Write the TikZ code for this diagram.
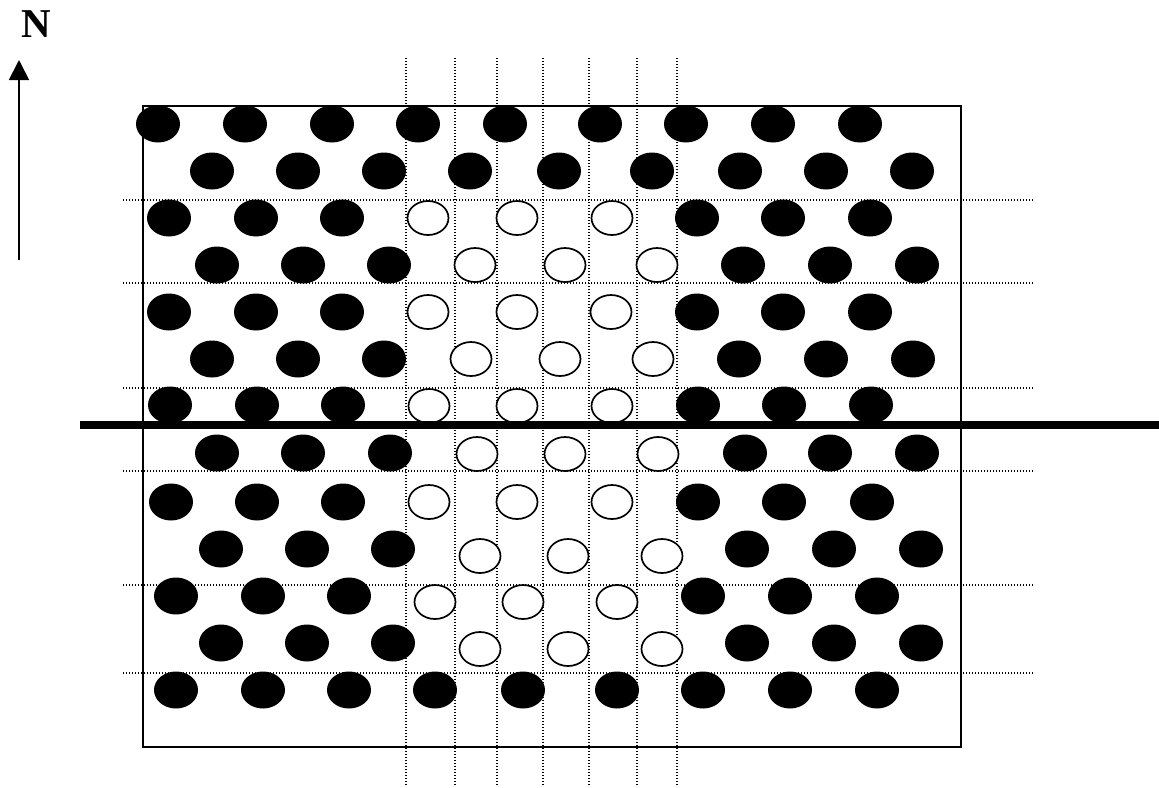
\documentclass[tikz,border=0pt]{standalone}
\usepackage{fontspec}
\setmainfont{Liberation Serif}
\usetikzlibrary{arrows.meta}
\tikzset{
  blackdot/.style={fill=black},
  opendot/.style={draw=black, line width=1.7pt, fill=white},
  gridline/.style={line width=1.1pt, dash pattern=on 1.2pt off 1.8pt},
  frame/.style={draw=black, line width=2.2pt},
  cutline/.style={draw=black, line width=7.5pt},
  northarrow/.style={line width=1.8pt, -{Triangle[length=20pt,width=20pt]}},
}
\begin{document}
\begin{tikzpicture}[x=1pt,y=-1pt]
\useasboundingbox (0,0) rectangle (1159,787);
% grid of dotted lines
\foreach \gx in {406,455,497,543,589,637,677}
  \draw[gridline] (\gx,58) -- (\gx,785);
\foreach \gy in {200,283,388,471,585,673}
  \draw[gridline] (123,\gy) -- (1034,\gy);
% frame
\draw[frame] (143,106) rectangle (961,747);
% black dots
\foreach \px/\py in {
  158/124,245/124,332/124,418/124,505/124,600/124,686/124,773/124,860/124,
  212/171,298/171,384/171,470/171,559/171,652/171,740/171,826/171,912/171,
  169/218,256/218,342/218,697/218,783/218,870/218,
  217/265,303/265,389/265,743/265,830/265,917/265,
  169/312,256/312,342/312,697/312,783/312,870/312,
  212/359,298/359,384/359,739/359,826/359,913/359,
  170/405,257/405,343/405,698/405,784/405,871/405,
  217/453,303/453,390/453,745/453,830/453,917/453,
  171/502,257/502,343/502,698/502,784/502,872/502,
  221/549,307/549,393/549,747/549,834/549,921/549,
  176/596,263/596,349/596,703/596,790/596,877/596,
  221/643,307/643,393/643,747/643,834/643,921/643,
  176/690,263/690,349/690,435/690,523/690,617/690,703/690,790/690,877/690}
  \fill[blackdot] (\px,\py) ellipse [x radius=22pt, y radius=18.5pt];
% open circles
\foreach \px/\py in {
  428/218,517/218,612/218,
  475/265,565/265,657/265,
  428/312,517/312,611/312,
  471/359,560/359,653/359,
  429/406,517/406,612/406,
  477/454,565/454,658/454,
  429/502,517/502,612/502,
  480/556,568/556,662/556,
  435/602,523/602,617/602,
  480/649,568/649,662/649}
  \draw[opendot] (\px,\py) ellipse [x radius=20.5pt, y radius=17pt];
% thick horizontal line
\coordinate (cutL) at (80,425);
\coordinate (cutR) at (1159,425);
\draw[cutline] (cutL) -- (cutR);
% north arrow
\node[font=\fontsize{41}{41}\selectfont\bfseries, inner sep=0pt] (north) at (36,24) {N};
\coordinate (arrowtail) at (19,260);
\coordinate (arrowtip) at (19,60);
\draw[northarrow] (arrowtail) -- (arrowtip);
\end{tikzpicture}
\end{document}
